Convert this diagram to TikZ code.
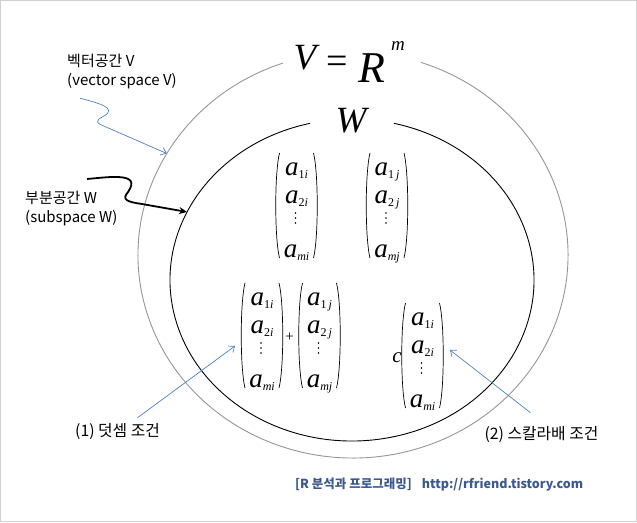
\documentclass[tikz,border=0pt]{standalone}
\usepackage{fontspec}
\setmainfont{Noto Sans CJK KR}
\newfontfamily\tms{Liberation Serif}
\usetikzlibrary{arrows.meta,calc}

\definecolor{arrowblue}{RGB}{79,129,189}
\definecolor{creditblue}{RGB}{59,89,140}
\definecolor{rimgray}{RGB}{150,150,150}

\newcommand{\vecent}[1]{{\tms\fontsize{27}{27}\selectfont\itshape a}\raisebox{-3pt}{\tms\fontsize{12}{12}\selectfont #1}}
\newcommand{\colvec}[6]{%
  \node[ent] (#1-1) at (#2,{-#3-22.5}) {\vecent{#4}};
  \node[ent] (#1-2) at (#2,{-#3-50.5}) {\vecent{#5}};
  \node[ent] (#1-m) at (#2,{-#3-104}) {\vecent{#6}};
  \foreach \k in {0,1,2}
    \fill ({#2-1},{-#3-60-5*\k}) circle (0.9);
  \draw[paren] ({#2-17},-#3) .. controls ({#2-22},{-#3-20}) and ({#2-22},{-#3-85}) .. ({#2-17},{-#3-105});
  \draw[paren] ({#2+17},-#3) .. controls ({#2+22},{-#3-20}) and ({#2+22},{-#3-85}) .. ({#2+17},{-#3-105});
}

\begin{document}
\begin{tikzpicture}[x=1pt, y=1pt,
    ent/.style={anchor=base, inner sep=0pt},
    paren/.style={line width=0.7pt},
    lbl/.style={align=left, inner sep=0pt, font=\fontsize{15}{19}\selectfont},
    cond/.style={inner sep=0pt, font=\fontsize{15.8}{15.8}\selectfont},
    mathbig/.style={anchor=base, inner sep=0pt},
    varrow/.style={arrowblue, line width=0.7pt, -{Straight Barb[length=5pt,width=8pt]}},
    warrow/.style={black, line width=1.8pt, -{Stealth[length=8pt,width=7pt]}}
  ]
  \useasboundingbox (0,0) rectangle (637,-522);
  \draw[black!18, line width=1.2pt] (0.6,-0.6) rectangle (636.4,-521.4);

  \draw[rimgray, line width=0.9pt] ([shift={(353,-255)}]109:215 and 203)
    arc[start angle=109, end angle=431.6, x radius=215, y radius=203];
  \draw[black, line width=0.9pt] ([shift={(352,-280)}]103.3:182 and 161)
    arc[start angle=103.3, end angle=436.7, x radius=182, y radius=161];

  \node[mathbig, font=\tms\fontsize{37}{37}\selectfont\itshape] (vV) at (305,-69) {V};
  \node[mathbig, font=\tms\fontsize{38}{38}\selectfont] (veq) at (337.5,-73) {=};
  \node[mathbig, font=\tms\fontsize{44}{44}\selectfont\itshape] (vR) at (372,-82) {R};
  \node[mathbig, font=\tms\fontsize{19}{19}\selectfont\itshape] (vm) at (398,-50) {m};
  \node[mathbig, font=\tms\fontsize{37}{37}\selectfont\itshape] (wW) at (351,-132) {W};

  \colvec{u}{296.5}{153}{1\textit{i}}{2\textit{i}}{\textit{mi}}
  \colvec{v}{387}{153}{1\,\textit{j}}{2\,\textit{j}}{\textit{mj}}
  \colvec{su}{262}{283}{1\textit{i}}{2\textit{i}}{\textit{mi}}
  \colvec{sv}{319.5}{283}{1\,\textit{j}}{2\,\textit{j}}{\textit{mj}}
  \colvec{cu}{422.5}{303}{1\textit{i}}{2\textit{i}}{\textit{mi}}
  \node[inner sep=0pt, font=\tms\fontsize{15}{15}\selectfont] (plus) at (289.5,-337) {+};
  \node[mathbig, font=\tms\fontsize{21}{21}\selectfont\itshape] (cc) at (397,-362) {c};

  \node[lbl, anchor=north west] (vlab) at (67,-54) {벡터공간 V\\(vector space V)};
  \node[lbl, anchor=north west] (wlab) at (25,-191) {부분공간 W\\(subspace W)};
  \node[cond] (addlab) at (117.5,-432) {(1) 덧셈 조건};
  \node[cond] (sclab) at (541.5,-435) {(2) 스칼라배 조건};

  \coordinate (vEdge) at ([shift={(353,-255)}]150:215 and 203);
  \coordinate (wEdge) at ([shift={(352,-280)}]155:182 and 161);
  \coordinate (sumTip) at (235,-346);
  \coordinate (scTip) at (450,-350);

  \draw[varrow] ($(vlab.south west)+(13,-9)$) .. controls (98,-103) and (118,-108) .. (104,-116)
    .. controls (94,-121) and (96,-123) .. (106,-127) -- (vEdge);
  \draw[warrow] ($(wlab.north west)+(62,12)$) .. controls (110,-177) and (142,-172) .. (128,-192)
    .. controls (121,-200) and (128,-202) .. (142,-204) -- (wEdge);
  \draw[varrow] ($(addlab.north)+(20,6)$) -- (sumTip);
  \draw[varrow] ($(sclab.north)+(-11,14)$) -- (scTip);

  \node[inner sep=0pt, anchor=west, text=creditblue, font=\bfseries\fontsize{12.5}{12.5}\selectfont] (credit) at (295,-485) {[R 분석과 프로그래밍]\hspace{10pt}http://rfriend.tistory.com};
\end{tikzpicture}
\end{document}
